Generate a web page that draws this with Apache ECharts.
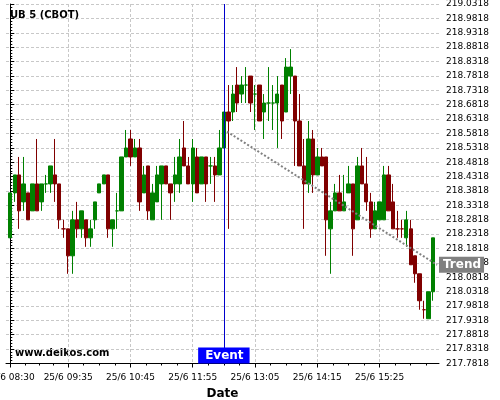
<!DOCTYPE html>
<html><head><meta charset="utf-8">
<script src="https://cdn.jsdelivr.net/npm/echarts@6/dist/echarts.min.js"></script>
<style>html,body{margin:0;padding:0;background:#fff}#c{width:500px;height:400px}</style>
</head><body><div id="c"></div>
<script>
const times = ['08:30','08:35','08:40','08:45','08:50','08:55','09:00','09:05','09:10','09:15','09:20','09:25','09:30','09:35','09:40','09:45','09:50','09:55',
'10:00','10:05','10:10','10:15','10:20','10:25','10:30','10:35','10:40','10:45','10:50','10:55',
'11:00','11:05','11:10','11:15','11:20','11:25','11:30','11:35','11:40','11:45','11:50','11:55',
'12:00','12:05','12:10','12:15','12:20','12:25','12:30','12:35','12:40','12:45','12:50','12:55',
'13:00','13:05','13:10','13:15','13:20','13:25','13:30','13:35','13:40','13:45','13:50','13:55',
'14:00','14:05','14:10','14:15','14:20','14:25','14:30','14:35','14:40','14:45','14:50','14:55',
'15:00','15:05','15:10','15:15','15:20','15:25','15:30','15:35','15:40','15:45','15:50','15:55',
'16:00','16:05','16:10','16:15','16:20','16:25'];
const openP = [218.21875,218.375,218.4375,218.34375,218.375,218.3125,218.40625,218.34375,218.40625,218.40625,
218.4375,218.40625,218.25,218.25,218.15625,218.28125,218.25,218.28125,218.21875,218.28125,
218.375,218.40625,218.4375,218.25,218.3125,218.3125,218.5,218.5625,218.5,218.53125,
218.375,218.46875,218.28125,218.34375,218.40625,218.46875,218.40625,218.40625,218.40625,218.53125,
218.46875,218.40625,218.5,218.40625,218.5,218.46875,218.46875,218.4375,218.53125,218.65625,
218.65625,218.75,218.71875,218.75,218.78125,218.71875,218.75,218.65625,218.6875,218.6875,
218.6875,218.75,218.65625,218.78125,218.78125,218.625,218.46875,218.40625,218.5625,218.4375,
218.5,218.5,218.25,218.3125,218.375,218.3125,218.375,218.40625,218.28125,218.46875,
218.40625,218.34375,218.25,218.28125,218.28125,218.4375,218.34375,218.25,218.25,218.21875,
218.25,218.15625,218.09375,217.96875,217.9375,218.03125];
const closeP = [218.375,218.4375,218.3125,218.40625,218.28125,218.40625,218.3125,218.40625,218.40625,218.46875,
218.40625,218.28125,218.25,218.15625,218.28125,218.25,218.3125,218.21875,218.25,218.34375,
218.40625,218.4375,218.25,218.28125,218.3125,218.5,218.53125,218.5,218.53125,218.34375,
218.4375,218.3125,218.375,218.4375,218.46875,218.40625,218.375,218.4375,218.5,218.46875,
218.40625,218.53125,218.375,218.5,218.40625,218.46875,218.4375,218.53125,218.65625,218.625,
218.71875,218.6875,218.75,218.75,218.6875,218.71875,218.625,218.6875,218.6875,218.6875,
218.71875,218.625,218.8125,218.8125,218.625,218.46875,218.40625,218.5625,218.4375,218.5,
218.46875,218.28125,218.3125,218.375,218.3125,218.34375,218.40625,218.25,218.46875,218.40625,
218.34375,218.25,218.3125,218.34375,218.4375,218.3125,218.25,218.25,218.25,218.28125,
218.125,218.09375,218.0,217.96875,218.03125,218.21875];
const lowP = [218.21875,218.34375,218.25,218.3125,218.28125,218.3125,218.3125,218.3125,218.375,218.375,
218.34375,218.25,218.21875,218.09375,218.09375,218.21875,218.21875,218.1875,218.1875,218.25,
218.375,218.40625,218.21875,218.1875,218.25,218.3125,218.5,218.46875,218.5,218.3125,
218.375,218.28125,218.28125,218.34375,218.28125,218.40625,218.28125,218.34375,218.375,218.46875,
218.40625,218.34375,218.375,218.40625,218.34375,218.40625,218.34375,218.4375,218.53125,218.25,
218.625,218.65625,218.6875,218.6875,218.65625,218.59375,218.625,218.5625,218.625,218.59375,
218.53125,218.5625,218.65625,218.71875,218.46875,218.46875,218.25,218.375,218.375,218.4375,
218.46875,218.15625,218.09375,218.3125,218.3125,218.3125,218.375,218.15625,218.28125,218.40625,
218.3125,218.21875,218.25,218.28125,218.28125,218.3125,218.25,218.21875,218.21875,218.1875,
218.125,218.0625,217.96875,217.9375,217.9375,218.0];
const highP = [218.375,218.4375,218.5,218.5,218.375,218.40625,218.5625,218.40625,218.4375,218.46875,
218.5625,218.40625,218.28125,218.25,218.3125,218.34375,218.3125,218.28125,218.28125,218.34375,
218.40625,218.4375,218.4375,218.28125,218.375,218.5,218.59375,218.59375,218.5625,218.5625,
218.46875,218.46875,218.40625,218.46875,218.46875,218.46875,218.40625,218.5,218.5625,218.625,
218.5,218.5625,218.53125,218.5,218.5,218.5,218.5,218.59375,218.65625,218.75,
218.75,218.8125,218.78125,218.8125,218.78125,218.75,218.75,218.71875,218.8125,218.75,
218.78125,218.75,218.84375,218.875,218.78125,218.71875,218.5625,218.625,218.59375,218.53125,
218.53125,218.5,218.34375,218.40625,218.4375,218.4375,218.46875,218.40625,218.5,218.53125,
218.5,218.375,218.34375,218.34375,218.46875,218.46875,218.40625,218.3125,218.28125,218.3125,
218.28125,218.15625,218.09375,218.0,218.03125,218.21875];
const redDoji = ['15:45','15:50'];
const tickTimes = ['08:30','09:35','10:45','11:55','13:05','14:15','15:25'];
const tickDate = '25/6';
const yBase = 217.7818;
const yStep = 0.05;
const yCount = 25;
const eventTime = '12:30';
const eventLabel = 'Event';
const trendX = [48.7, 95.9];
const trendY = [218.588, 218.125];
const trendLabel = 'Trend';
const titleText = 'UB 5 (CBOT)';
const siteText = 'www.delkos.com';

const UP = '#008000', DOWN = '#800000';
const FONT = 'DejaVu Sans';
const xMin = -0.966, xMax = 96.35;
const tickIdx = tickTimes.map(t => times.indexOf(t));
const minorIdx = [];
for (let k = 0; k < tickIdx.length; k++) {
  const a = tickIdx[k], b = k + 1 < tickIdx.length ? tickIdx[k + 1] : a + 14;
  for (let q = 1; q < 4; q++) minorIdx.push(a + (b - a) * q / 4);
}
const candleData = times.map((t, i) => {
  const v = [i, openP[i] - yBase, closeP[i] - yBase, lowP[i] - yBase, highP[i] - yBase];
  if (redDoji.indexOf(t) >= 0) return {value: v, itemStyle: {color: DOWN, color0: DOWN, borderColor: DOWN, borderColor0: DOWN}};
  return v;
});
const eventIdx = times.indexOf(eventTime);

const chart = echarts.init(document.getElementById('c'), null, {renderer: 'canvas'});
chart.setOption({
  animation: false,
  backgroundColor: '#fff',
  title: {text: titleText, left: 10, top: 10, padding: 0,
    textStyle: {fontFamily: FONT, fontSize: 10, fontWeight: 'bold', color: '#000'}},
  graphic: [{type: 'text', left: 15, top: 348, style: {text: siteText, font: 'bold 10px "DejaVu Sans"', fill: '#000'}}],
  grid: {left: 6, right: 61, top: 4, bottom: 36.5, containLabel: false, outerBoundsMode: 'none'},
  xAxis: [{
    type: 'value', min: xMin, max: xMax, position: 'bottom',
    axisLine: {show: true, onZero: false, lineStyle: {color: '#000', width: 1}},
    axisTick: {show: true, customValues: tickIdx, length: 4, lineStyle: {color: '#000'}},
    axisLabel: {customValues: tickIdx, formatter: v => tickDate + ' ' + times[Math.round(v)],
      fontFamily: FONT, fontSize: 9, color: '#000', margin: 10},
    splitLine: {show: true, lineStyle: {color: '#c8c8c8', type: [3, 2], width: 1}},
    name: 'Date', nameLocation: 'middle', nameGap: 19,
    nameTextStyle: {fontFamily: FONT, fontSize: 12, fontWeight: 'bold', color: '#000'}
  }, {
    type: 'value', min: xMin, max: xMax, position: 'bottom', gridIndex: 0,
    axisLine: {show: false},
    axisTick: {show: true, customValues: minorIdx, length: 2, lineStyle: {color: '#000'}},
    axisLabel: {show: false}, splitLine: {show: false}
  }],
  yAxis: {
    type: 'value', position: 'right', min: 0, max: 1.25, interval: yStep,
    axisLine: {show: true, lineStyle: {color: '#000'}},
    axisTick: {show: true, length: 4, lineStyle: {color: '#000'}},
    minorTick: {show: true, splitNumber: 5, length: 2, lineStyle: {color: '#000'}},
    axisLabel: {formatter: v => (yBase + v).toFixed(4), fontFamily: FONT, fontSize: 9, color: '#000', margin: 7},
    splitLine: {show: true, lineStyle: {color: '#c8c8c8', type: [3, 2], width: 1}}
  },
  series: [{
    type: 'candlestick', xAxisIndex: 0, yAxisIndex: 0,
    encode: {x: 0, y: [1, 2, 3, 4]},
    barWidth: 3.9,
    itemStyle: {color: UP, color0: DOWN, borderColor: UP, borderColor0: DOWN, borderWidth: 1},
    data: candleData,
    markLine: {
      symbol: ['none', 'none'], silent: true, animation: false,
      data: [{xAxis: eventIdx,
        lineStyle: {color: '#0000cc', width: 1, type: 'solid'},
        label: {show: true, position: 'start', distance: -16, formatter: eventLabel,
          backgroundColor: '#0000ff', color: '#fff', fontFamily: FONT, fontSize: 12, fontWeight: 'bold',
          padding: [1, 6, 1, 7], lineHeight: 14}}]
    }
  }, {
    type: 'line', xAxisIndex: 0, yAxisIndex: 0, clip: false, z: 5,
    data: trendX.map((x, i) => [x, trendY[i] - yBase]),
    symbol: 'none', silent: true,
    lineStyle: {color: '#808080', width: 2, type: [2, 2]},
    endLabel: {show: true, formatter: trendLabel, distance: 2,
      backgroundColor: '#808080', color: '#fff', fontFamily: FONT, fontSize: 12, fontWeight: 'bold',
      padding: [1, 3, 1, 4], lineHeight: 14}
  }]
});
</script></body></html>
